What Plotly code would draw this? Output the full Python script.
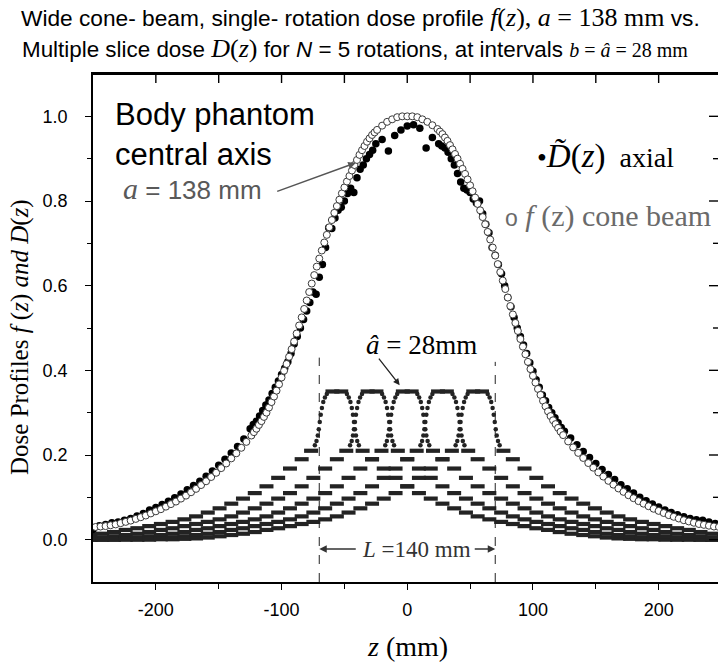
import plotly.graph_objects as go

# ---------------- data ----------------
# cone-beam single-rotation profile f(z)
z_f = [-248, -244, -240, -236, -232, -228, -224, -220, -216, -212,
       -208, -204, -200, -196, -192, -188, -184, -180, -176, -172,
       -168, -164, -160, -156, -152, -148, -144, -140, -136, -132, -128,
       -124, -122, -120, -118, -116, -114, -112, -110, -108, -106,
       -104, -102, -100, -98, -96, -94, -92, -90, -88, -86,
       -84, -82, -80, -78, -76, -74, -72, -70, -68, -66,
       -64, -62, -60, -58, -56, -54, -52, -50, -48, -46,
       -44, -42, -40, -38, -36, -34, -32, -30, -28, -26, -24,
       -20, -16, -12, -8, -4, 0, 4, 8, 12, 16, 20,
       24, 26, 28, 30, 32, 34, 36, 38, 40, 42,
       44, 46, 48, 50, 52, 54, 56, 58, 60, 62,
       64, 66, 68, 70, 72, 74, 76, 78, 80, 82,
       84, 86, 88, 90, 92, 94, 96, 98, 100, 102,
       104, 106, 108, 110, 112, 114, 116, 118, 120, 122, 124,
       128, 132, 136, 140, 144, 148, 152, 156, 160, 164,
       168, 172, 176, 180, 184, 188, 192, 196, 200, 204,
       208, 212, 216, 220, 224, 228, 232, 236, 240, 244, 248]
f_vals = [0.030, 0.031, 0.032, 0.034, 0.036, 0.039, 0.042, 0.045, 0.049, 0.053,
          0.057, 0.062, 0.067, 0.072, 0.078, 0.084, 0.090, 0.097, 0.104, 0.112,
          0.120, 0.129, 0.138, 0.148, 0.158, 0.169, 0.180, 0.192, 0.204, 0.217, 0.231,
          0.246, 0.254, 0.262, 0.271, 0.280, 0.290, 0.300, 0.312, 0.325, 0.338,
          0.352, 0.367, 0.383, 0.399, 0.415, 0.432, 0.450, 0.468, 0.487, 0.506,
          0.525, 0.545, 0.565, 0.585, 0.605, 0.625, 0.645, 0.664, 0.683, 0.702,
          0.720, 0.738, 0.755, 0.772, 0.788, 0.803, 0.818, 0.832, 0.846, 0.859,
          0.872, 0.885, 0.897, 0.909, 0.920, 0.930, 0.940, 0.948, 0.956, 0.962, 0.968,
          0.978, 0.987, 0.993, 0.998, 1.000, 1.000, 1.000, 0.998, 0.993, 0.987, 0.979,
          0.970, 0.964, 0.958, 0.950, 0.942, 0.932, 0.922, 0.911, 0.900, 0.888,
          0.876, 0.864, 0.851, 0.837, 0.823, 0.808, 0.793, 0.778, 0.762, 0.745,
          0.727, 0.709, 0.690, 0.671, 0.651, 0.632, 0.612, 0.592, 0.572, 0.552,
          0.532, 0.512, 0.493, 0.474, 0.456, 0.438, 0.420, 0.403, 0.387, 0.371,
          0.356, 0.342, 0.328, 0.315, 0.303, 0.292, 0.282, 0.273, 0.264, 0.255, 0.247,
          0.232, 0.218, 0.205, 0.193, 0.181, 0.170, 0.159, 0.149, 0.139, 0.130,
          0.121, 0.113, 0.105, 0.098, 0.091, 0.085, 0.079, 0.073, 0.068, 0.063,
          0.058, 0.054, 0.050, 0.046, 0.043, 0.040, 0.037, 0.035, 0.033, 0.031, 0.030]

# measured axial multiple-slice dose D~(z)
z_D = [-250, -245, -240, -235, -230, -225, -220, -215, -210, -205,
       -200, -195, -190, -185, -180, -175, -170, -165, -160, -155,
       -150, -145, -140, -135, -130,
       -125, -122.5, -120, -117.5, -115, -112.5, -110, -107.5, -105, -102.5,
       -100, -97.5, -95, -92.5, -90, -87.5, -85, -82.5, -80, -77.5,
       -75, -72.5, -70, -67.5, -65, -62.5, -60, -57.5, -55, -52.5,
       -50, -47.5, -45, -42.5, -40, -37.5, -35, -32.5, -30, -27.5, -25,
       -20, -15, -10, -5, 0, 5, 10, 15, 20,
       25, 27.5, 30, 32.5, 35, 37.5, 40, 42.5, 45, 47.5,
       50, 52.5, 55, 57.5, 60, 62.5, 65, 67.5, 70, 72.5,
       75, 77.5, 80, 82.5, 85, 87.5, 90, 92.5, 95, 97.5,
       100, 102.5, 105, 107.5, 110, 112.5, 115, 117.5, 120, 122.5, 125,
       130, 135, 140, 145, 150, 155, 160, 165, 170, 175,
       180, 185, 190, 195, 200, 205, 210, 215, 220, 225,
       230, 235, 240, 245, 250]
D_vals = [0.024, 0.033, 0.036, 0.040, 0.042, 0.046, 0.050, 0.056, 0.062, 0.070,
          0.076, 0.083, 0.091, 0.099, 0.108, 0.118, 0.128, 0.138, 0.150, 0.162,
          0.176, 0.190, 0.205, 0.220, 0.238,
          0.262, 0.272, 0.280, 0.292, 0.305, 0.318, 0.330, 0.345, 0.360, 0.375,
          0.390, 0.405, 0.420, 0.440, 0.462, 0.480, 0.500, 0.520, 0.540, 0.560,
          0.585, 0.580, 0.620, 0.650, 0.690, 0.737, 0.735, 0.760, 0.778, 0.785,
          0.800, 0.818, 0.830, 0.820, 0.855, 0.875, 0.885, 0.900, 0.910, 0.920, 0.935,
          0.945, 0.918, 0.955, 0.968, 0.977, 0.980, 0.972, 0.925, 0.950,
          0.935, 0.930, 0.925, 0.915, 0.900, 0.885, 0.865, 0.845, 0.830, 0.826,
          0.820, 0.805, 0.795, 0.800, 0.770, 0.745, 0.725, 0.690, 0.672, 0.650,
          0.628, 0.600, 0.572, 0.550, 0.525, 0.500, 0.480, 0.460, 0.440, 0.418,
          0.398, 0.378, 0.360, 0.342, 0.328, 0.312, 0.300, 0.288, 0.276, 0.265, 0.256,
          0.240, 0.224, 0.208, 0.194, 0.180, 0.166, 0.154, 0.142, 0.130, 0.120,
          0.110, 0.100, 0.092, 0.084, 0.077, 0.070, 0.064, 0.059, 0.054, 0.050,
          0.047, 0.046, 0.042, 0.038, 0.034]

# single narrow-slice profile (offset u from its centre, mm) and its value
u_prof = [-308.0, -298.7, -289.3, -280.0, -270.7, -261.3, -252.0, -242.7, -233.3, -224.0,
          -214.7, -205.3, -196.0, -186.7, -177.3, -168.0, -158.7, -149.3, -140.0, -130.7,
          -121.3, -112.0, -102.7, -93.3, -84.0, -74.7, -65.3, -56.0, -46.7, -37.3,
          -28.0, -20.5, -17.5, -16.2, -15.2, -14.4, -13.6, -12.8, -11.9, -10.8,
          -9.5, -8.0, -3.5,
          3.5, 8.0, 9.5,
          10.8, 11.9, 12.8, 13.6, 14.4, 15.2, 16.2, 17.5, 20.5, 28.0,
          37.3, 46.7, 56.0, 65.3, 74.7, 84.0, 93.3, 102.7, 112.0, 121.3,
          130.7, 140.0, 149.3, 158.7, 168.0, 177.3, 186.7, 196.0, 205.3, 214.7,
          224.0, 233.3, 242.7, 252.0, 261.3, 270.7, 280.0, 289.3, 298.7, 308.0]
g_prof = [0.000, 0.000, 0.000, 0.000, 0.000, 0.000, 0.001, 0.001, 0.002, 0.003,
          0.005, 0.008, 0.011, 0.014, 0.018, 0.023, 0.027, 0.032, 0.037, 0.042,
          0.048, 0.055, 0.064, 0.074, 0.085, 0.097, 0.110, 0.126, 0.146, 0.168,
          0.190, 0.210, 0.223, 0.233, 0.246, 0.261, 0.278, 0.295, 0.311, 0.325,
          0.336, 0.344, 0.350,
          0.350, 0.344, 0.336,
          0.325, 0.311, 0.295, 0.278, 0.261, 0.246, 0.233, 0.223, 0.210, 0.190,
          0.168, 0.146, 0.126, 0.110, 0.097, 0.085, 0.074, 0.064, 0.055, 0.048,
          0.042, 0.037, 0.032, 0.027, 0.023, 0.018, 0.014, 0.011, 0.008, 0.005,
          0.003, 0.002, 0.001, 0.001, 0.000, 0.000, 0.000, 0.000, 0.000, 0.000]
# N = 5 rotations at interval b = 28 mm
rotation_centers = [-56, -28, 0, 28, 56]
L_mm = 140

x_tickvals = [-200, -100, 0, 100, 200]
x_ticktext = ["-200", "-100", "0", "100", "200"]
x_minor = [-150, -50, 50, 150]
y_tickvals = [0.0, 0.2, 0.4, 0.6, 0.8, 1.0]
y_ticktext = ["0.0", "0.2", "0.4", "0.6", "0.8", "1.0"]
y_minor = [0.1, 0.3, 0.5, 0.7, 0.9]

for a, b, n in [(z_f, f_vals, "f"), (z_D, D_vals, "D"), (u_prof, g_prof, "g")]:
    if len(a) != len(b):
        raise SystemExit("length mismatch in %s: %d vs %d" % (n, len(a), len(b)))

# ---------------- figure ----------------
W, H = 718, 665
ML, MR, MT, MB = 93, 0, 74, 83
PW, PH = W - ML - MR, H - MT - MB


def px(xp):
    return (xp - ML) / PW


def py(yp):
    return (H - MB - yp) / PH


SANS = "Liberation Sans, Arial, sans-serif"
PCOL = "#232323"

fig = go.Figure()

for c in rotation_centers:
    zz = [u + c for u in u_prof]
    steep = [7 < abs(u) < 18 for u in u_prof]
    fig.add_trace(go.Scatter(
        x=zz, y=g_prof, mode="markers", showlegend=False, hoverinfo="skip",
        marker=dict(
            symbol=["circle" if s else "line-ew" for s in steep],
            size=[4.5 if s else 10 for s in steep],
            color=PCOL, opacity=1,
            line=dict(color=PCOL, width=[0 if s else 4.2 for s in steep]),
        ),
    ))

fig.add_trace(go.Scatter(
    x=z_D, y=D_vals, mode="markers", showlegend=False,
    marker=dict(symbol="circle", size=7.5, color="black", opacity=1, line=dict(width=0)),
))
fig.add_trace(go.Scatter(
    x=z_f, y=f_vals, mode="markers", showlegend=False,
    marker=dict(symbol="circle", size=7, color="white", opacity=1,
                line=dict(color="#3a3a3a", width=1)),
))

xr = [-250, -250 + PW / 1.257]
yr = [-0.1, 1.1]

fig.update_layout(
    width=W, height=H,
    margin=dict(l=ML, r=MR, t=MT, b=MB, pad=0),
    paper_bgcolor="white", plot_bgcolor="white",
    font=dict(family=SANS, size=18, color="black"),
    xaxis=dict(range=xr, showgrid=False, zeroline=False, showline=True, mirror=True,
               linecolor="black", linewidth=1.6, ticks="outside", ticklen=6,
               tickwidth=1.4, tickcolor="black",
               tickmode="array", tickvals=x_tickvals, ticktext=x_ticktext,
               tickfont=dict(family=SANS, size=18), ticklabelstandoff=5,
               minor=dict(tickmode="array", tickvals=x_minor, ticks="outside",
                          ticklen=5, tickwidth=1.4, tickcolor="black")),
    yaxis=dict(range=yr, showgrid=False, zeroline=False, showline=True,
               linecolor="black", linewidth=1.6, ticks="outside", ticklen=6,
               tickwidth=1.4, tickcolor="black",
               tickmode="array", tickvals=y_tickvals, ticktext=y_ticktext,
               tickfont=dict(family=SANS, size=18), ticklabelstandoff=14,
               minor=dict(tickmode="array", tickvals=y_minor, ticks="outside",
                          ticklen=4, tickwidth=1.4, tickcolor="black")),
)

# top frame edge (right edge lies just outside the picture in the reference)
fig.add_shape(type="line", xref="paper", yref="paper", x0=0, x1=1, y0=1, y1=1,
              line=dict(color="black", width=1.8))
# inward ticks of the top and right frame edges, at the axis tick values
for tv in x_tickvals + x_minor:
    fig.add_shape(type="line", xref="x", yref="paper", x0=tv, x1=tv,
                  y0=1, y1=1 - 9 / PH, line=dict(color="black", width=1.4))
for tv, ln in [(t, 9) for t in y_tickvals] + [(t, 5) for t in y_minor]:
    fig.add_shape(type="line", xref="paper", yref="y", x0=1, x1=1 - ln / PW,
                  y0=tv, y1=tv, line=dict(color="black", width=1.4))

# dashed lines bounding L
for xv, ytop in [(-L_mm / 2, 0.43), (L_mm / 2, 0.42)]:
    fig.add_shape(type="line", x0=xv, x1=xv, y0=-0.1, y1=ytop, xref="x", yref="y",
                  line=dict(color="#222", width=1, dash="dash"))

ann = []


def sp(txt, fam, size):
    return "<span style='font-family:%s;font-size:%spx'>%s</span>" % (fam, size, txt)


S_FAM = "Liberation Serif"
A_FAM = "Liberation Sans"

# title, two lines
t1 = (sp("Wide cone- beam, single- rotation dose profile ", A_FAM, 22.7)
      + sp("<i>f</i>(<i>z</i>), <i>a</i> = 138 mm", S_FAM, 26)
      + sp(" vs.", A_FAM, 22.7))
t2 = (sp("Multiple slice dose ", A_FAM, 22.4)
      + sp("<i>D</i>(<i>z</i>)", S_FAM, 26)
      + sp(" for <i>N</i> = 5 rotations, at intervals ", A_FAM, 22.4)
      + sp("<i>b</i> = <i>â</i> = 28 mm", S_FAM, 20))
ann.append(dict(text=t1, x=px(360), y=py(18), xref="paper", yref="paper",
                xanchor="center", yanchor="middle", showarrow=False))
ann.append(dict(text=t2, x=px(355), y=py(48), xref="paper", yref="paper",
                xanchor="center", yanchor="middle", showarrow=False))

# axis titles
ann.append(dict(text=sp("Dose Profiles ", S_FAM, 25) + sp("<i>f</i> (<i>z</i>) <i>and D</i>(<i>z</i>)", S_FAM, 25),
                x=px(20), y=py(337), xref="paper", yref="paper", textangle=-90,
                xanchor="center", yanchor="middle", showarrow=False))
ann.append(dict(text=sp("<i>z</i> (mm)", S_FAM, 28),
                x=px(407), y=py(646), xref="paper", yref="paper",
                xanchor="center", yanchor="middle", showarrow=False))

# in-plot labels
ann.append(dict(text="Body phantom<br>central axis", font=dict(family=SANS, size=31, color="black"),
                x=px(113), y=py(134), xref="paper", yref="paper", align="left",
                xanchor="left", yanchor="middle", showarrow=False))
ann.append(dict(text=sp("<i>a</i>", S_FAM, 30) + sp(" = 138 mm", A_FAM, 26),
                font=dict(color="#595959"),
                x=px(121), y=py(188), xref="paper", yref="paper",
                xanchor="left", yanchor="middle", showarrow=False))
ann.append(dict(text="", x=-41, y=0.89, xref="x", yref="y", showarrow=True,
                ax=-80, ay=29, arrowhead=2, arrowsize=1, arrowwidth=1.5,
                arrowcolor="#555"))
ann.append(dict(text=sp("•", S_FAM, 28) + sp("<i>D\u0303</i>(<i>z</i>)", S_FAM, 33) + sp("  axial", S_FAM, 28),
                font=dict(color="black"),
                x=px(535), y=py(156), xref="paper", yref="paper",
                xanchor="left", yanchor="middle", showarrow=False))
ann.append(dict(text=sp("o", A_FAM, 23) + sp(" <i>f</i> (z) cone beam", S_FAM, 30),
                font=dict(color="#6a6a6a"),
                x=px(503), y=py(216), xref="paper", yref="paper",
                xanchor="left", yanchor="middle", showarrow=False))
ann.append(dict(text=sp("<i>â</i> = 28mm", S_FAM, 27),
                x=px(421), y=py(345), xref="paper", yref="paper",
                xanchor="center", yanchor="middle", showarrow=False))
ann.append(dict(text="", x=-6, y=0.365, xref="x", yref="y", showarrow=True,
                ax=-22, ay=-28, arrowhead=2, arrowsize=1, arrowwidth=1.3,
                arrowcolor="#222"))
ann.append(dict(text=sp("<i>L</i> =140 mm", S_FAM, 23), font=dict(color="#333"),
                x=px(416), y=py(549), xref="paper", yref="paper",
                xanchor="center", yanchor="middle", showarrow=False))
ann.append(dict(text="", x=-L_mm / 2, y=-0.022, xref="x", yref="y", showarrow=True,
                ax=38, ay=0, arrowhead=2, arrowsize=1, arrowwidth=1.5, arrowcolor="#333"))
ann.append(dict(text="", x=L_mm / 2, y=-0.022, xref="x", yref="y", showarrow=True,
                ax=-22, ay=0, arrowhead=2, arrowsize=1, arrowwidth=1.5, arrowcolor="#333"))

fig.update_layout(annotations=ann)

fig.write_html("out.html")
